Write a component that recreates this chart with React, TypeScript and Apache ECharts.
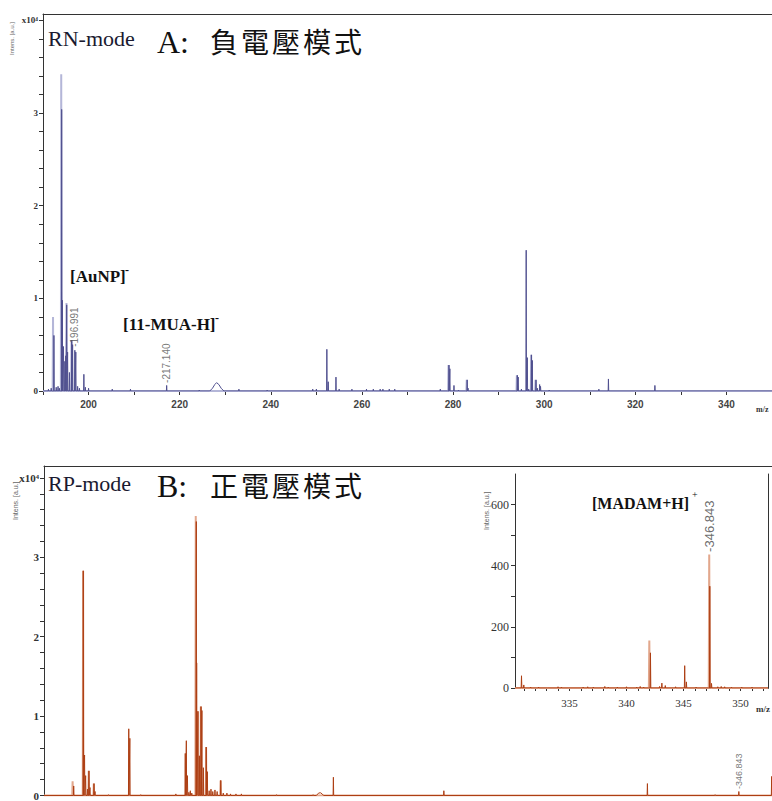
import React, { useEffect, useRef } from 'react';
import * as echarts from 'echarts';

// ---------- Panel A (negative mode) : [m/z, intensity x10^4]
const peaksA: [number, number][] = [
  [191.2, 0.02], [191.8, 0.03], [192.4, 0.6], [192.9, 0.04], [193.3, 0.05], [193.6, 0.03],
  [194.1, 3.04], [194.25, 0.98], [194.5, 0.48], [194.8, 0.32], [195.0, 0.38], [195.2, 0.93],
  [195.4, 0.42], [195.8, 0.2], [196.3, 0.55], [196.5, 0.5], [196.99, 0.44], [197.2, 0.42],
  [197.6, 0.05], [198.0, 0.03], [198.97, 0.18], [199.3, 0.04], [200.0, 0.03], [205.2, 0.02],
  [209.2, 0.02], [217.14, 0.06], [224.3, 0.01], [233.0, 0.02], [239.2, 0.01], [249.2, 0.02],
  [250.0, 0.02], [252.3, 0.45], [252.6, 0.1], [254.3, 0.15], [255.0, 0.02], [257.8, 0.02],
  [261.0, 0.02], [262.5, 0.02], [264.0, 0.02], [264.6, 0.02], [266.0, 0.02], [267.2, 0.02],
  [277.2, 0.02], [279.1, 0.28], [279.3, 0.24], [280.2, 0.06], [281.2, 0.01], [283.1, 0.12],
  [283.3, 0.03], [294.1, 0.17], [294.3, 0.15], [295.0, 0.02], [296.05, 1.52], [296.3, 0.36],
  [296.6, 0.02], [297.2, 0.39], [297.4, 0.33], [298.2, 0.12], [298.5, 0.03], [299.0, 0.07],
  [299.2, 0.05], [301.1, 0.01], [312.0, 0.02], [314.1, 0.13], [324.3, 0.06],
];
const humpA: [number, number][] = [
  [226.6, 0], [227.2, 0.03], [227.7, 0.07], [228.1, 0.09], [228.6, 0.07], [229.1, 0.03], [229.7, 0],
];
const lightA: [number, number][] = [
  [192.2, 0.8], [194.0, 3.42], [195.15, 0.95], [196.25, 0.55], [279.0, 0.28], [283.0, 0.12],
  [294.0, 0.17], [297.15, 0.39], [298.1, 0.12],
];
const labelsA: [number, number][] = [[196.991, 0.45], [217.14, 0.06]];

// ---------- Panel B (positive mode) : [m/z, intensity x10^4]
const peaksB: [number, number][] = [
  [163.2, 0.12], [165.85, 2.83], [166.2, 0.51], [166.5, 0.25], [167.0, 0.08], [167.4, 0.31],
  [167.7, 0.1], [168.8, 0.15], [169.1, 0.05], [172.8, 0.01], [178.4, 0.84], [178.7, 0.72],
  [181.7, 0.01], [191.4, 0.02], [194.0, 0.53], [194.3, 0.69], [194.6, 0.25], [195.0, 0.04],
  [195.4, 0.06], [195.8, 0.03], [197.05, 3.45], [197.15, 1.67], [197.5, 1.06], [197.9, 0.5],
  [198.35, 1.12], [198.6, 1.07], [199.0, 0.35], [199.8, 0.61], [200.1, 0.3], [200.6, 0.06],
  [201.1, 0.08], [201.6, 0.05], [202.2, 0.07], [202.8, 0.05], [203.8, 0.19], [204.5, 0.03],
  [205.5, 0.03], [206.5, 0.02], [208.0, 0.02], [209.5, 0.02], [219.2, 0.01], [229.3, 0.01],
  [234.9, 0.23], [265.4, 0.06], [321.6, 0.15], [340.3, 0.01], [346.843, 0.05], [355.9, 0.24],
];
const humpB: [number, number][] = [[230.2, 0], [230.8, 0.03], [231.3, 0.035], [231.8, 0.02], [232.2, 0]];
const lightB: [number, number][] = [
  [162.9, 0.18], [165.8, 2.83], [167.35, 0.31], [168.75, 0.15], [196.9, 3.52], [197.45, 1.06],
  [198.3, 1.12], [199.75, 0.61], [203.75, 0.19],
];
const labelsB: [number, number][] = [[346.843, 0.05]];

// ---------- Inset (counts, a.u.)
const insetPeaks: [number, number][] = [
  [330.8, 40], [331.0, 10], [331.6, 3], [332.3, 3], [333.1, 2], [334.0, 4], [334.3, 3],
  [336.2, 3], [336.6, 4], [337.1, 3], [338.1, 5], [338.4, 3], [339.2, 3], [340.0, 4],
  [340.9, 3], [341.2, 5], [341.5, 3], [342.1, 115], [342.9, 5], [343.1, 16], [343.4, 8],
  [344.3, 4], [345.1, 73], [345.25, 20], [346.1, 3], [347.3, 333], [347.45, 15], [348.0, 4],
  [348.3, 5], [348.6, 4], [349.2, 3], [350.1, 3], [351.0, 3],
];
const insetLight: [number, number][] = [[342.0, 155], [347.25, 437]];
const insetLabel = { mz: 347.25, intensity: 437, text: '-346.843' };

// ---------- Axes ticks / labels
const yLabelsMain = [0, 1, 2, 3, 4];
const yTicksMain = [0, 0.2, 0.4, 0.6, 0.8, 1, 1.2, 1.4, 1.6, 1.8, 2, 2.2, 2.4, 2.6, 2.8, 3, 3.2, 3.4, 3.6, 3.8, 4];
const xLabelsA = [200, 220, 240, 260, 280, 300, 320, 340];
const xTicksA = [190, 200, 210, 220, 230, 240, 250, 260, 270, 280, 290, 300, 310, 320, 330, 340, 350];
const insetYLabels = [0, 200, 400, 600];
const insetYTicks = [0, 100, 200, 300, 400, 500, 600];
const insetXLabels = [335, 340, 345, 350];
const insetXTicks = [331, 332, 333, 334, 335, 336, 337, 338, 339, 340, 341, 342, 343, 344, 345, 346, 347, 348, 349, 350, 351, 352];

const COLOR_A = '#50508f';
const COLOR_A_LIGHT = '#b4b6d8';
const COLOR_B = '#ad3f14';
const COLOR_B_LIGHT = '#e2a78c';

function toLine(peaks: [number, number][], hw: number, extra: [number, number][], lo: number, hi: number) {
  const pts: number[][] = [];
  peaks.forEach(([m, h]) => { pts.push([m - hw, 0], [m, h], [m + hw, 0]); });
  extra.forEach((p) => pts.push([p[0], p[1]]));
  pts.push([lo, 0], [hi, 0]);
  pts.sort((a, b) => a[0] - b[0]);
  return pts;
}

const AXIS = '#333';

export default function App() {
  const ref = useRef<HTMLDivElement>(null);
  useEffect(() => {
    document.body.style.margin = '0';
    if (!ref.current) return;
    const chart = echarts.init(ref.current, null, { renderer: 'svg' });

    const topAxis = (gridIndex: number) => ({
      gridIndex, type: 'value', position: 'top', min: 0, max: 1,
      axisLine: { show: true, lineStyle: { color: AXIS, width: 1 } },
      axisTick: { show: false }, axisLabel: { show: false }, splitLine: { show: false },
    });

    const mainY = (gridIndex: number, max: number, fontSize: number) => ({
      gridIndex, type: 'value', min: 0, max,
      axisLine: { show: true, lineStyle: { color: AXIS } },
      axisTick: { show: true, customValues: yTicksMain, length: 4, lineStyle: { color: AXIS } },
      axisLabel: {
        customValues: yLabelsMain,
        formatter: (v: number) => (v === 4 ? 'x10⁴' : String(v)),
        fontSize, fontFamily: 'Liberation Serif', fontWeight: 'bold', color: '#333', margin: 5,
      },
      splitLine: { show: false },
    });

    const peakLabel = (fontSize: number, color: string) => ({
      show: true, position: 'top', rotate: 90, align: 'left', verticalAlign: 'middle',
      distance: 2, fontSize, color, fontFamily: 'Liberation Sans',
    });

    const cjk = (s: string, x0: number, y: number) =>
      s.split('').map((ch, i) => ({
        type: 'text', x: x0 + i * 31, y,
        style: { text: ch, font: '28px "Noto Sans CJK TC"', fill: '#111', textVerticalAlign: 'top' },
      }));

    const txt = (text: string, x: number, y: number, font: string, fill = '#111') => ({
      type: 'text', x, y,
      style: { text, font, fill, textVerticalAlign: 'top' },
    });

    const vtxt = (text: string, x: number, yBottom: number, font: string, fill = '#555') => ({
      type: 'text', x, y: yBottom, rotation: Math.PI / 2,
      style: { text, font, fill, textAlign: 'left', textVerticalAlign: 'middle' },
    });

    chart.setOption({
      animation: false,
      grid: [
        { left: 43, top: 14, right: 0, height: 377 },
        { left: 44, top: 466, right: 0, height: 330 },
        { left: 515, top: 474, width: 253, height: 214 },
      ],
      xAxis: [
        {
          gridIndex: 0, type: 'value', min: 190, max: 350,
          axisLine: { show: true, lineStyle: { color: AXIS } },
          axisTick: { show: true, customValues: xTicksA, length: 4, lineStyle: { color: AXIS } },
          axisLabel: {
            customValues: xLabelsA, fontSize: 10, fontFamily: 'Liberation Sans', fontWeight: 'bold',
            color: '#444', margin: 8,
          },
          splitLine: { show: false },
        },
        topAxis(0),
        { gridIndex: 1, type: 'value', min: 155, max: 356, show: false },
        topAxis(1),
        {
          gridIndex: 2, type: 'value', min: 330.23, max: 352.4,
          axisLine: { show: true, lineStyle: { color: AXIS } },
          axisTick: { show: true, customValues: insetXTicks, length: 3, lineStyle: { color: AXIS } },
          axisLabel: {
            customValues: insetXLabels, fontSize: 11, fontFamily: 'Liberation Serif', color: '#333', margin: 9,
          },
          splitLine: { show: false },
        },
        topAxis(2),
      ],
      yAxis: [
        mainY(0, 4.07, 9),
        mainY(1, 4.15, 11),
        {
          gridIndex: 2, type: 'value', min: 0, max: 700,
          axisLine: { show: true, lineStyle: { color: AXIS } },
          axisTick: { show: true, customValues: insetYTicks, length: 4, lineStyle: { color: AXIS } },
          axisLabel: {
            customValues: insetYLabels, fontSize: 12, fontFamily: 'Liberation Serif', color: '#333', margin: 6,
          },
          splitLine: { show: false },
        },
        {
          gridIndex: 2, type: 'value', position: 'right', min: 0, max: 700,
          axisLine: { show: true, lineStyle: { color: AXIS } },
          axisTick: { show: false }, axisLabel: { show: false }, splitLine: { show: false },
        },
      ],
      series: [
        {
          type: 'line', xAxisIndex: 0, yAxisIndex: 0, data: toLine(lightA, 0.08, [], 190, 350),
          showSymbol: false, symbol: 'none', silent: true, z: 1,
          lineStyle: { color: COLOR_A_LIGHT, width: 2 },
        },
        {
          type: 'line', xAxisIndex: 0, yAxisIndex: 0, data: toLine(peaksA, 0.06, humpA, 190, 350),
          showSymbol: false, symbol: 'none', silent: true, z: 2,
          lineStyle: { color: COLOR_A, width: 1 },
        },
        {
          type: 'scatter', xAxisIndex: 0, yAxisIndex: 0, data: labelsA, symbolSize: 1,
          itemStyle: { color: 'rgba(0,0,0,0)' }, silent: true, z: 3,
          label: { ...peakLabel(10, '#555'), formatter: (p: any) => '-' + p.value[0].toFixed(3) },
        },
        {
          type: 'line', xAxisIndex: 2, yAxisIndex: 1, data: toLine(lightB, 0.1, [], 155, 356),
          showSymbol: false, symbol: 'none', silent: true, z: 1,
          lineStyle: { color: COLOR_B_LIGHT, width: 2 },
        },
        {
          type: 'line', xAxisIndex: 2, yAxisIndex: 1, data: toLine(peaksB, 0.08, humpB, 155, 356),
          showSymbol: false, symbol: 'none', silent: true, z: 2,
          lineStyle: { color: COLOR_B, width: 1 },
        },
        {
          type: 'scatter', xAxisIndex: 2, yAxisIndex: 1, data: labelsB, symbolSize: 1,
          itemStyle: { color: 'rgba(0,0,0,0)' }, silent: true, z: 3,
          label: { ...peakLabel(9, '#555'), formatter: (p: any) => '-' + p.value[0].toFixed(3) },
        },
        {
          type: 'line', xAxisIndex: 4, yAxisIndex: 2, data: toLine(insetLight, 0.04, [], 330.23, 352.4),
          showSymbol: false, symbol: 'none', silent: true, z: 1,
          lineStyle: { color: COLOR_B_LIGHT, width: 2 },
        },
        {
          type: 'line', xAxisIndex: 4, yAxisIndex: 2, data: toLine(insetPeaks, 0.03, [], 330.23, 352.4),
          showSymbol: false, symbol: 'none', silent: true, z: 2,
          lineStyle: { color: COLOR_B, width: 1 },
        },
        {
          type: 'scatter', xAxisIndex: 4, yAxisIndex: 2, data: [[insetLabel.mz, insetLabel.intensity]],
          symbolSize: 1, itemStyle: { color: 'rgba(0,0,0,0)' }, silent: true, z: 3,
          label: { ...peakLabel(13, '#444'), formatter: () => insetLabel.text },
        },
      ],
      graphic: [
        // Panel A titles
        txt('RN-mode', 48, 27, '22px "Liberation Serif"', '#1a1a30'),
        txt('A:', 157, 26, '32px "Liberation Serif"'),
        ...cjk('負電壓模式', 210, 27),
        txt('[AuNP]', 70, 268, 'bold 17px "Liberation Serif"'),
        txt('-', 125, 264, 'bold 12px "Liberation Serif"'),
        txt('[11-MUA-H]', 123, 316, 'bold 17px "Liberation Serif"'),
        txt('-', 215, 312, 'bold 12px "Liberation Serif"'),
        vtxt('Intens. [a.u.]', 12, 55, '6px "Liberation Sans"', '#666'),
        txt('m/z', 756, 405, 'bold 8px "Liberation Serif"', '#333'),
        // Panel B titles
        txt('RP-mode', 48, 472, '22px "Liberation Serif"', '#1a1a30'),
        txt('B:', 157, 470, '32px "Liberation Serif"'),
        ...cjk('正電壓模式', 210, 471),
        vtxt('Intens. [a.u.]', 15, 520, '7px "Liberation Sans"', '#666'),
        // Inset
        txt('[MADAM+H]', 592, 495, 'bold 16px "Liberation Serif"'),
        txt('+', 692, 489, '10px "Liberation Serif"'),
        vtxt('Intens. [a.u.]', 486, 530, '7px "Liberation Sans"', '#666'),
        txt('m/z', 756, 704, 'bold 9px "Liberation Serif"', '#333'),
      ],
    });
    return () => chart.dispose();
  }, []);
  return <div ref={ref} style={{ width: 772, height: 801 }} />;
}
